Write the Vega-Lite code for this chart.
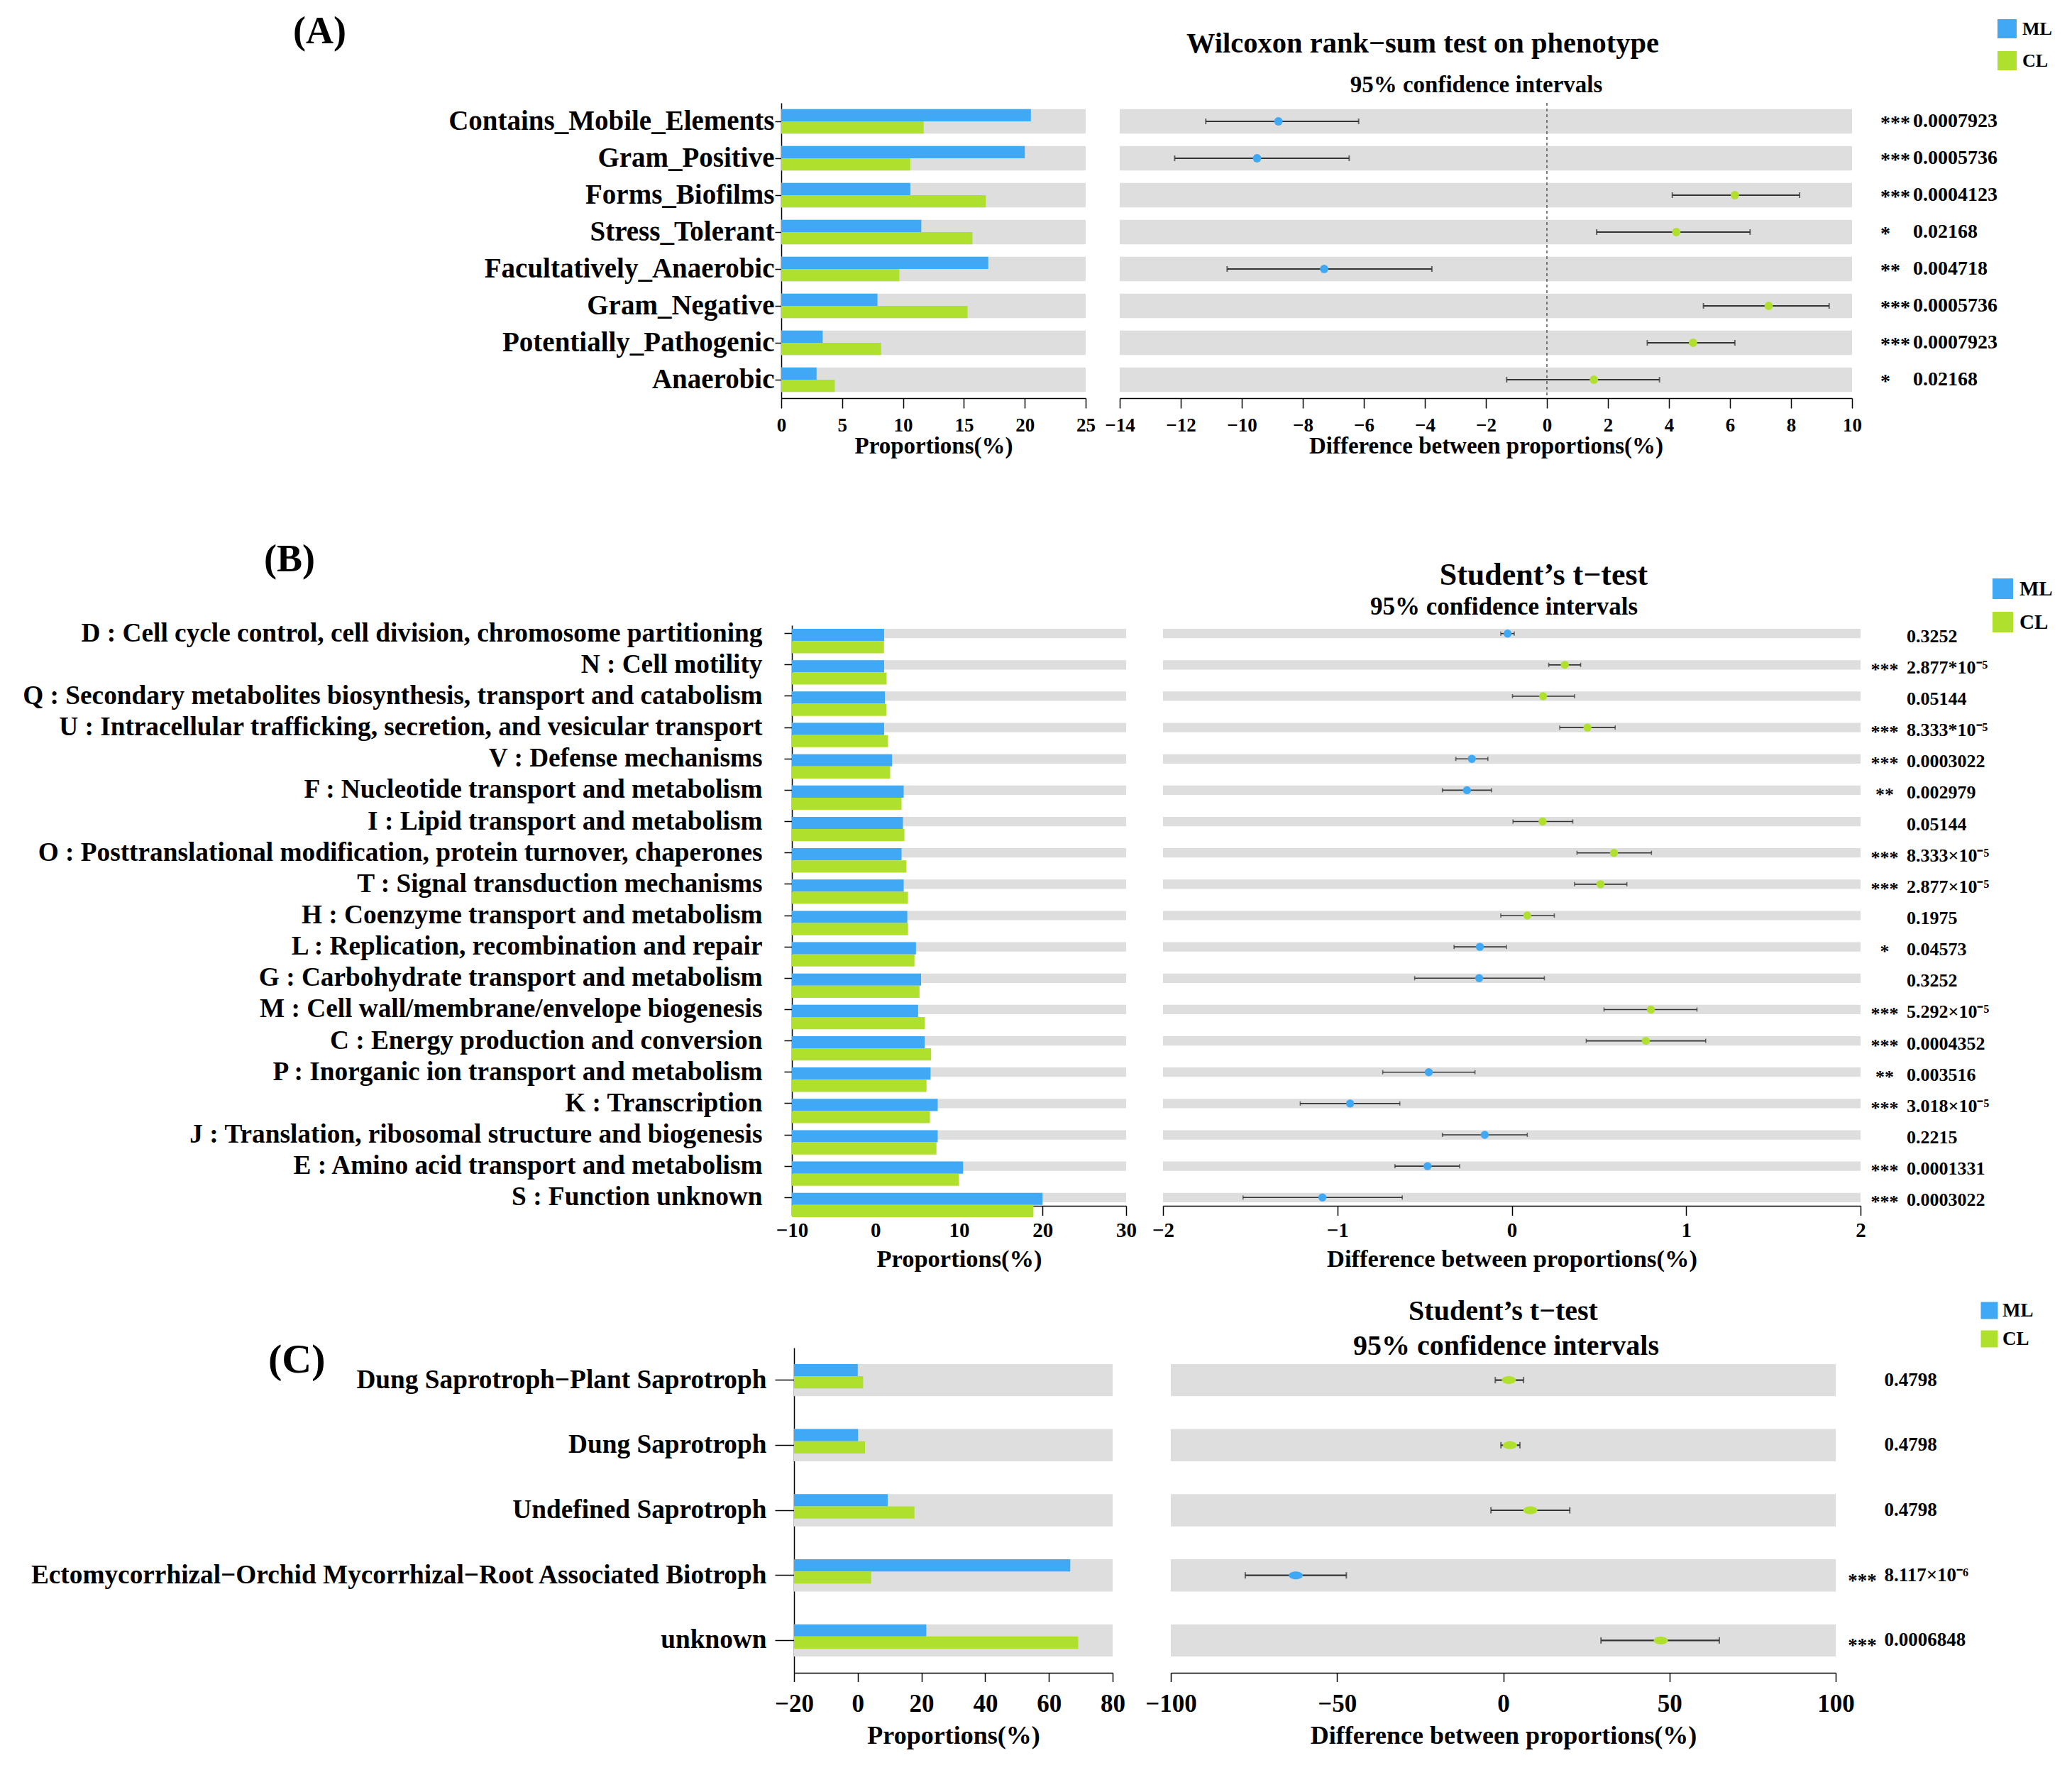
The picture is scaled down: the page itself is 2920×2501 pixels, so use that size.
{
"$schema": "https://vega.github.io/schema/vega-lite/v6.json",
"padding": {"left": 0, "top": 18, "right": 5, "bottom": 5},
"background": "white",
"config": {
  "font": "Liberation Serif",
  "view": {"stroke": null},
  "axis": {"grid": false, "domainColor": "#000", "tickColor": "#000", "labelColor": "#000", "titleColor": "#000", "labelFont": "Liberation Serif", "titleFont": "Liberation Serif", "labelFontWeight": "bold", "titleFontWeight": "bold", "labelFlush": false, "labelOverlap": false},
  "title": {"font": "Liberation Serif", "fontWeight": "bold", "color": "#000"},
  "text": {"font": "Liberation Serif", "fontWeight": "bold", "color": "#000"}
},
"datasets": {
  "A_bar": [
    {"cat":"Contains_Mobile_Elements","group":"ML","value":20.5},
    {"cat":"Contains_Mobile_Elements","group":"CL","value":11.7},
    {"cat":"Gram_Positive","group":"ML","value":20.0},
    {"cat":"Gram_Positive","group":"CL","value":10.6},
    {"cat":"Forms_Biofilms","group":"ML","value":10.6},
    {"cat":"Forms_Biofilms","group":"CL","value":16.8},
    {"cat":"Stress_Tolerant","group":"ML","value":11.5},
    {"cat":"Stress_Tolerant","group":"CL","value":15.7},
    {"cat":"Facultatively_Anaerobic","group":"ML","value":17.0},
    {"cat":"Facultatively_Anaerobic","group":"CL","value":9.7},
    {"cat":"Gram_Negative","group":"ML","value":7.9},
    {"cat":"Gram_Negative","group":"CL","value":15.3},
    {"cat":"Potentially_Pathogenic","group":"ML","value":3.4},
    {"cat":"Potentially_Pathogenic","group":"CL","value":8.2},
    {"cat":"Anaerobic","group":"ML","value":2.9},
    {"cat":"Anaerobic","group":"CL","value":4.4}
  ],
  "A_diff": [
    {"cat":"Contains_Mobile_Elements","diff":-8.8,"lo":-11.18,"hi":-6.17,"group":"ML","sig":"***","p":"0.0007923"},
    {"cat":"Gram_Positive","diff":-9.5,"lo":-12.2,"hi":-6.48,"group":"ML","sig":"***","p":"0.0005736"},
    {"cat":"Forms_Biofilms","diff":6.16,"lo":4.11,"hi":8.28,"group":"CL","sig":"***","p":"0.0004123"},
    {"cat":"Stress_Tolerant","diff":4.24,"lo":1.63,"hi":6.66,"group":"CL","sig":"*","p":"0.02168"},
    {"cat":"Facultatively_Anaerobic","diff":-7.3,"lo":-10.48,"hi":-3.77,"group":"ML","sig":"**","p":"0.004718"},
    {"cat":"Gram_Negative","diff":7.27,"lo":5.13,"hi":9.25,"group":"CL","sig":"***","p":"0.0005736"},
    {"cat":"Potentially_Pathogenic","diff":4.79,"lo":3.29,"hi":6.16,"group":"CL","sig":"***","p":"0.0007923"},
    {"cat":"Anaerobic","diff":1.54,"lo":-1.32,"hi":3.69,"group":"CL","sig":"*","p":"0.02168"}
  ],
  "B_bar": [
    {"cat":"D : Cell cycle control, cell division, chromosome partitioning","group":"ML","value":1.04},
    {"cat":"D : Cell cycle control, cell division, chromosome partitioning","group":"CL","value":1.02},
    {"cat":"N : Cell motility","group":"ML","value":1.04},
    {"cat":"N : Cell motility","group":"CL","value":1.34},
    {"cat":"Q : Secondary metabolites biosynthesis, transport and catabolism","group":"ML","value":1.13},
    {"cat":"Q : Secondary metabolites biosynthesis, transport and catabolism","group":"CL","value":1.31},
    {"cat":"U : Intracellular trafficking, secretion, and vesicular transport","group":"ML","value":1.04},
    {"cat":"U : Intracellular trafficking, secretion, and vesicular transport","group":"CL","value":1.47},
    {"cat":"V : Defense mechanisms","group":"ML","value":1.99},
    {"cat":"V : Defense mechanisms","group":"CL","value":1.76},
    {"cat":"F : Nucleotide transport and metabolism","group":"ML","value":3.38},
    {"cat":"F : Nucleotide transport and metabolism","group":"CL","value":3.12},
    {"cat":"I : Lipid transport and metabolism","group":"ML","value":3.29},
    {"cat":"I : Lipid transport and metabolism","group":"CL","value":3.47},
    {"cat":"O : Posttranslational modification, protein turnover, chaperones","group":"ML","value":3.12},
    {"cat":"O : Posttranslational modification, protein turnover, chaperones","group":"CL","value":3.71},
    {"cat":"T : Signal transduction mechanisms","group":"ML","value":3.38},
    {"cat":"T : Signal transduction mechanisms","group":"CL","value":3.89},
    {"cat":"H : Coenzyme transport and metabolism","group":"ML","value":3.81},
    {"cat":"H : Coenzyme transport and metabolism","group":"CL","value":3.90},
    {"cat":"L : Replication, recombination and repair","group":"ML","value":4.85},
    {"cat":"L : Replication, recombination and repair","group":"CL","value":4.67},
    {"cat":"G : Carbohydrate transport and metabolism","group":"ML","value":5.46},
    {"cat":"G : Carbohydrate transport and metabolism","group":"CL","value":5.27},
    {"cat":"M : Cell wall/membrane/envelope biogenesis","group":"ML","value":5.11},
    {"cat":"M : Cell wall/membrane/envelope biogenesis","group":"CL","value":5.91},
    {"cat":"C : Energy production and conversion","group":"ML","value":5.89},
    {"cat":"C : Energy production and conversion","group":"CL","value":6.66},
    {"cat":"P : Inorganic ion transport and metabolism","group":"ML","value":6.59},
    {"cat":"P : Inorganic ion transport and metabolism","group":"CL","value":6.11},
    {"cat":"K : Transcription","group":"ML","value":7.45},
    {"cat":"K : Transcription","group":"CL","value":6.52},
    {"cat":"J : Translation, ribosomal structure and biogenesis","group":"ML","value":7.45},
    {"cat":"J : Translation, ribosomal structure and biogenesis","group":"CL","value":7.30},
    {"cat":"E : Amino acid transport and metabolism","group":"ML","value":10.49},
    {"cat":"E : Amino acid transport and metabolism","group":"CL","value":10.0},
    {"cat":"S : Function unknown","group":"ML","value":20.0},
    {"cat":"S : Function unknown","group":"CL","value":18.91}
  ],
  "B_diff": [
    {"cat":"D : Cell cycle control, cell division, chromosome partitioning","diff":-0.024,"lo":-0.063,"hi":0.014,"group":"ML","sig":"","p":"0.3252"},
    {"cat":"N : Cell motility","diff":0.304,"lo":0.212,"hi":0.395,"group":"CL","sig":"***","p":"2.877*10⁻⁵"},
    {"cat":"Q : Secondary metabolites biosynthesis, transport and catabolism","diff":0.18,"lo":0.004,"hi":0.36,"group":"CL","sig":"","p":"0.05144"},
    {"cat":"U : Intracellular trafficking, secretion, and vesicular transport","diff":0.434,"lo":0.275,"hi":0.593,"group":"CL","sig":"***","p":"8.333*10⁻⁵"},
    {"cat":"V : Defense mechanisms","diff":-0.229,"lo":-0.321,"hi":-0.137,"group":"ML","sig":"***","p":"0.0003022"},
    {"cat":"F : Nucleotide transport and metabolism","diff":-0.257,"lo":-0.398,"hi":-0.116,"group":"ML","sig":"**","p":"0.002979"},
    {"cat":"I : Lipid transport and metabolism","diff":0.177,"lo":0.007,"hi":0.35,"group":"CL","sig":"","p":"0.05144"},
    {"cat":"O : Posttranslational modification, protein turnover, chaperones","diff":0.586,"lo":0.374,"hi":0.801,"group":"CL","sig":"***","p":"8.333×10⁻⁵"},
    {"cat":"T : Signal transduction mechanisms","diff":0.509,"lo":0.36,"hi":0.66,"group":"CL","sig":"***","p":"2.877×10⁻⁵"},
    {"cat":"H : Coenzyme transport and metabolism","diff":0.089,"lo":-0.063,"hi":0.244,"group":"CL","sig":"","p":"0.1975"},
    {"cat":"L : Replication, recombination and repair","diff":-0.183,"lo":-0.331,"hi":-0.031,"group":"ML","sig":"*","p":"0.04573"},
    {"cat":"G : Carbohydrate transport and metabolism","diff":-0.187,"lo":-0.557,"hi":0.187,"group":"ML","sig":"","p":"0.3252"},
    {"cat":"M : Cell wall/membrane/envelope biogenesis","diff":0.798,"lo":0.529,"hi":1.062,"group":"CL","sig":"***","p":"5.292×10⁻⁵"},
    {"cat":"C : Energy production and conversion","diff":0.769,"lo":0.427,"hi":1.112,"group":"CL","sig":"***","p":"0.0004352"},
    {"cat":"P : Inorganic ion transport and metabolism","diff":-0.476,"lo":-0.74,"hi":-0.211,"group":"ML","sig":"**","p":"0.003516"},
    {"cat":"K : Transcription","diff":-0.927,"lo":-1.213,"hi":-0.642,"group":"ML","sig":"***","p":"3.018×10⁻⁵"},
    {"cat":"J : Translation, ribosomal structure and biogenesis","diff":-0.155,"lo":-0.398,"hi":0.089,"group":"ML","sig":"","p":"0.2215"},
    {"cat":"E : Amino acid transport and metabolism","diff":-0.483,"lo":-0.67,"hi":-0.299,"group":"ML","sig":"***","p":"0.0001331"},
    {"cat":"S : Function unknown","diff":-1.086,"lo":-1.541,"hi":-0.628,"group":"ML","sig":"***","p":"0.0003022"}
  ],
  "C_bar": [
    {"cat":"Dung Saprotroph−Plant Saprotroph","group":"ML","value":0.0},
    {"cat":"Dung Saprotroph−Plant Saprotroph","group":"CL","value":1.7},
    {"cat":"Dung Saprotroph","group":"ML","value":0.1},
    {"cat":"Dung Saprotroph","group":"CL","value":2.3},
    {"cat":"Undefined Saprotroph","group":"ML","value":9.4},
    {"cat":"Undefined Saprotroph","group":"CL","value":17.8},
    {"cat":"Ectomycorrhizal−Orchid Mycorrhizal−Root Associated Biotroph","group":"ML","value":66.7},
    {"cat":"Ectomycorrhizal−Orchid Mycorrhizal−Root Associated Biotroph","group":"CL","value":4.2},
    {"cat":"unknown","group":"ML","value":21.5},
    {"cat":"unknown","group":"CL","value":69.2}
  ],
  "C_diff": [
    {"cat":"Dung Saprotroph−Plant Saprotroph","diff":1.67,"lo":-2.4,"hi":6.1,"group":"CL","sig":"","p":"0.4798"},
    {"cat":"Dung Saprotroph","diff":2.0,"lo":-0.7,"hi":5.0,"group":"CL","sig":"","p":"0.4798"},
    {"cat":"Undefined Saprotroph","diff":8.15,"lo":-3.7,"hi":20.0,"group":"CL","sig":"","p":"0.4798"},
    {"cat":"Ectomycorrhizal−Orchid Mycorrhizal−Root Associated Biotroph","diff":-62.4,"lo":-77.6,"hi":-47.2,"group":"ML","sig":"***","p":"8.117×10⁻⁶"},
    {"cat":"unknown","diff":47.4,"lo":29.4,"hi":65.0,"group":"CL","sig":"***","p":"0.0006848"}
  ],
  "zero_line": [{"line":"zero"}],
  "blank": [{"note":""}]
},
"resolve": {"scale": {"color": "independent"}, "legend": {"color": "independent"}},
"spacing": 36,
"vconcat": [
 {
  "spacing": 117,
  "resolve": {"scale": {"color": "independent"}, "legend": {"color": "independent"}},
  "vconcat": [
   {
    "bounds": "flush",
    "spacing": 48,
    "resolve": {"scale": {"color": "independent"}, "legend": {"color": "independent"}},
    "hconcat": [
     {"width": 34, "height": 416, "data": {"name": "blank"}, "mark": {"type": "text", "text": ""}},
     {
      "width": 429, "height": 416,
      "title": {"text": "(A)", "fontSize": 54, "anchor": "start", "frame": "group", "dx": -688, "offset": 73},
      "encoding": {"y": {"field": "cat", "type": "nominal", "scale": {"domain": ["Contains_Mobile_Elements","Gram_Positive","Forms_Biofilms","Stress_Tolerant","Facultatively_Anaerobic","Gram_Negative","Potentially_Pathogenic","Anaerobic"], "paddingInner": 0.34, "paddingOuter": 0.17},
        "axis": {"title": " ", "titleFontSize": 1, "titlePadding": 0, "minExtent": 1100, "maxExtent": 1100, "labelFontSize": 39, "labelLimit": 2000, "tickSize": 9, "tickWidth": 1.5, "labelPadding": 1, "domainWidth": 1.5}}},
      "layer": [
       {"data": {"name": "A_diff"}, "mark": {"type": "bar", "color": "#DEDEDE"},
        "encoding": {"x": {"datum": 0, "type": "quantitative", "scale": {"domain": [0, 25], "nice": false}, "axis": {"values": [0,5,10,15,20,25], "title": "Proportions(%)", "titleFontSize": 33, "labelFontSize": 27, "tickSize": 14, "tickWidth": 1.5, "domainWidth": 1.5, "labelPadding": 11, "titlePadding": 0}}, "x2": {"datum": 25}}},
       {"data": {"name": "A_bar"}, "mark": {"type": "bar"},
        "encoding": {"x": {"field": "value", "type": "quantitative", "scale": {"domain": [0, 25], "nice": false}, "axis": {"values": [0,5,10,15,20,25], "title": "Proportions(%)", "titleFontSize": 33, "labelFontSize": 27, "tickSize": 14, "tickWidth": 1.5, "domainWidth": 1.5, "labelPadding": 11, "titlePadding": 0}}, "x2": {"datum": 0},
          "yOffset": {"field": "group", "type": "nominal", "scale": {"domain": ["ML","CL"], "paddingInner": 0, "paddingOuter": 0}},
          "color": {"field": "group", "type": "nominal", "scale": {"domain": ["ML","CL"], "range": ["#40A9F6","#B0E02E"]}, "legend": null}}}
      ]
     },
     {
      "width": 1032, "height": 416,
      "title": {"text": "Wilcoxon rank−sum test on phenotype", "fontSize": 40.5, "anchor": "middle", "frame": "group", "dx": -89, "offset": 21},
      "data": {"name": "A_diff"},
      "resolve": {"axis": {"x": "independent"}},
      "layer": [
       {"mark": {"type": "bar", "color": "#DEDEDE"},
        "encoding": {"y": {"field": "cat", "type": "nominal", "scale": {"domain": ["Contains_Mobile_Elements","Gram_Positive","Forms_Biofilms","Stress_Tolerant","Facultatively_Anaerobic","Gram_Negative","Potentially_Pathogenic","Anaerobic"], "paddingInner": 0.34, "paddingOuter": 0.17}, "axis": null},
          "x": {"datum": -14, "type": "quantitative", "scale": {"domain": [-14, 10], "nice": false}, "axis": {"values": [-14,-12,-10,-8,-6,-4,-2,0,2,4,6,8,10], "title": "Difference between proportions(%)", "titleFontSize": 33, "labelFontSize": 27, "tickSize": 14, "tickWidth": 1.5, "domainWidth": 1.5, "labelPadding": 11, "titlePadding": 0}}, "x2": {"datum": 10}}},
       {"data": {"name": "zero_line"}, "mark": {"type": "rule", "color": "#555555", "strokeDash": [4, 4], "strokeWidth": 1.5},
        "encoding": {"x": {"datum": 0, "type": "quantitative", "scale": {"domain": [-14, 10], "nice": false}, "axis": null}}},
       {"mark": {"type": "rule", "color": "#333333", "strokeWidth": 2},
        "encoding": {"y": {"field": "cat", "type": "nominal", "axis": null},
          "x": {"field": "lo", "type": "quantitative", "scale": {"domain": [-14, 10], "nice": false}, "axis": {"orient": "top", "labels": false, "ticks": false, "domain": false, "title": "95% confidence intervals", "titleFontSize": 33, "titleX": 502, "titleY": -26, "titleBaseline": "middle", "titleAlign": "center", "minExtent": 0, "maxExtent": 0}}, "x2": {"field": "hi"}}},
       {"mark": {"type": "tick", "color": "#333333", "thickness": 2, "size": 8},
        "encoding": {"y": {"field": "cat", "type": "nominal", "axis": null}, "x": {"field": "lo", "type": "quantitative", "axis": null}}},
       {"mark": {"type": "tick", "color": "#333333", "thickness": 2, "size": 8},
        "encoding": {"y": {"field": "cat", "type": "nominal", "axis": null}, "x": {"field": "hi", "type": "quantitative", "axis": null}}},
       {"mark": {"type": "point", "filled": true, "opacity": 1, "size": 140, "strokeWidth": 0},
        "encoding": {"y": {"field": "cat", "type": "nominal", "axis": null}, "x": {"field": "diff", "type": "quantitative", "axis": null},
          "color": {"field": "group", "type": "nominal", "scale": {"domain": ["ML","CL"], "range": ["#40A9F6","#B0E02E"]}, "legend": null}}},
       {"mark": {"type": "text", "align": "left", "baseline": "middle", "fontSize": 28, "dy": 3},
        "encoding": {"y": {"field": "cat", "type": "nominal", "axis": null}, "x": {"datum": 10.93, "type": "quantitative", "axis": null}, "text": {"field": "sig"}}},
       {"mark": {"type": "text", "align": "left", "baseline": "middle", "fontSize": 28},
        "encoding": {"y": {"field": "cat", "type": "nominal", "axis": null}, "x": {"datum": 12.0, "type": "quantitative", "axis": null}, "text": {"field": "p"}}}
      ]
     },
     {
      "width": 10, "height": 416,
      "data": {"name": "A_bar"},
      "mark": {"type": "square", "opacity": 0},
      "encoding": {"color": {"field": "group", "type": "nominal", "scale": {"domain": ["ML","CL"], "range": ["#40A9F6","#B0E02E"]},
        "legend": {"orient": "none", "legendX": 157, "legendY": -118, "direction": "vertical", "title": null, "symbolType": "square", "symbolSize": 729, "symbolStrokeWidth": 0, "symbolOpacity": 1, "labelFontSize": 26, "labelFont": "Liberation Serif", "labelFontWeight": "bold", "labelColor": "#000", "rowPadding": 18, "labelOffset": 8, "padding": 0, "offset": 0}}}
     }
    ]
   },
   {
    "bounds": "flush",
    "spacing": 52,
    "resolve": {"scale": {"color": "independent"}, "legend": {"color": "independent"}},
    "hconcat": [
     {"width": 45, "height": 818, "data": {"name": "blank"}, "mark": {"type": "text", "text": ""}},
     {
      "width": 471, "height": 818,
      "title": {"text": "(B)", "fontSize": 54, "anchor": "start", "frame": "group", "dx": -744, "offset": 57},
      "encoding": {"y": {"field": "cat", "type": "nominal", "scale": {"domain": ["D : Cell cycle control, cell division, chromosome partitioning","N : Cell motility","Q : Secondary metabolites biosynthesis, transport and catabolism","U : Intracellular trafficking, secretion, and vesicular transport","V : Defense mechanisms","F : Nucleotide transport and metabolism","I : Lipid transport and metabolism","O : Posttranslational modification, protein turnover, chaperones","T : Signal transduction mechanisms","H : Coenzyme transport and metabolism","L : Replication, recombination and repair","G : Carbohydrate transport and metabolism","M : Cell wall/membrane/envelope biogenesis","C : Energy production and conversion","P : Inorganic ion transport and metabolism","K : Transcription","J : Translation, ribosomal structure and biogenesis","E : Amino acid transport and metabolism","S : Function unknown"], "paddingInner": 0.7, "paddingOuter": 0.115},
        "axis": {"title": " ", "titleFontSize": 1, "titlePadding": 0, "minExtent": 1115, "maxExtent": 1115, "labelFontSize": 37.3, "labelLimit": 2000, "tickSize": 11, "tickWidth": 1.5, "labelPadding": 31, "domainWidth": 1.5}}},
      "layer": [
       {"data": {"name": "B_diff"}, "mark": {"type": "bar", "color": "#DEDEDE"},
        "encoding": {"x": {"datum": -10, "type": "quantitative", "scale": {"domain": [-10, 30], "nice": false}, "axis": {"values": [-10,0,10,20,30], "title": "Proportions(%)", "titleFontSize": 34.5, "labelFontSize": 29, "tickSize": 13.5, "tickWidth": 1.5, "domainWidth": 1.5, "labelPadding": 7, "titlePadding": 9}}, "x2": {"datum": 30}}},
       {"data": {"name": "B_bar"}, "mark": {"type": "bar"},
        "encoding": {"x": {"field": "value", "type": "quantitative", "scale": {"domain": [-10, 30], "nice": false}, "axis": {"values": [-10,0,10,20,30], "title": "Proportions(%)", "titleFontSize": 34.5, "labelFontSize": 29, "tickSize": 13.5, "tickWidth": 1.5, "domainWidth": 1.5, "labelPadding": 7, "titlePadding": 9}}, "x2": {"datum": -10},
          "yOffset": {"field": "group", "type": "nominal", "scale": {"domain": ["ML","CL"], "paddingInner": 0, "paddingOuter": 0}},
          "color": {"field": "group", "type": "nominal", "scale": {"domain": ["ML","CL"], "range": ["#40A9F6","#B0E02E"]}, "legend": null}}}
      ]
     },
     {
      "width": 983, "height": 818,
      "title": {"text": "Student’s t−test", "fontSize": 44, "anchor": "middle", "frame": "group", "dx": 45, "offset": 4},
      "data": {"name": "B_diff"},
      "resolve": {"axis": {"x": "independent"}},
      "layer": [
       {"mark": {"type": "bar", "color": "#DEDEDE"},
        "encoding": {"y": {"field": "cat", "type": "nominal", "scale": {"domain": ["D : Cell cycle control, cell division, chromosome partitioning","N : Cell motility","Q : Secondary metabolites biosynthesis, transport and catabolism","U : Intracellular trafficking, secretion, and vesicular transport","V : Defense mechanisms","F : Nucleotide transport and metabolism","I : Lipid transport and metabolism","O : Posttranslational modification, protein turnover, chaperones","T : Signal transduction mechanisms","H : Coenzyme transport and metabolism","L : Replication, recombination and repair","G : Carbohydrate transport and metabolism","M : Cell wall/membrane/envelope biogenesis","C : Energy production and conversion","P : Inorganic ion transport and metabolism","K : Transcription","J : Translation, ribosomal structure and biogenesis","E : Amino acid transport and metabolism","S : Function unknown"], "paddingInner": 0.7, "paddingOuter": 0.115}, "axis": null},
          "x": {"datum": -2, "type": "quantitative", "scale": {"domain": [-2, 2], "nice": false}, "axis": {"values": [-2,-1,0,1,2], "title": "Difference between proportions(%)", "titleFontSize": 34.5, "labelFontSize": 29, "tickSize": 13.5, "tickWidth": 1.5, "domainWidth": 1.5, "labelPadding": 7, "titlePadding": 9}}, "x2": {"datum": 2}}},
       {"mark": {"type": "rule", "color": "#333333", "strokeWidth": 1.6},
        "encoding": {"y": {"field": "cat", "type": "nominal", "axis": null},
          "x": {"field": "lo", "type": "quantitative", "scale": {"domain": [-2, 2], "nice": false}, "axis": {"orient": "top", "labels": false, "ticks": false, "domain": false, "title": "95% confidence intervals", "titleFontSize": 35, "titleX": 480, "titleY": -27, "titleBaseline": "middle", "titleAlign": "center", "minExtent": 0, "maxExtent": 0}}, "x2": {"field": "hi"}}},
       {"mark": {"type": "tick", "color": "#333333", "thickness": 1.6, "size": 6},
        "encoding": {"y": {"field": "cat", "type": "nominal", "axis": null}, "x": {"field": "lo", "type": "quantitative", "axis": null}}},
       {"mark": {"type": "tick", "color": "#333333", "thickness": 1.6, "size": 6},
        "encoding": {"y": {"field": "cat", "type": "nominal", "axis": null}, "x": {"field": "hi", "type": "quantitative", "axis": null}}},
       {"mark": {"type": "point", "filled": true, "opacity": 1, "size": 130, "strokeWidth": 0},
        "encoding": {"y": {"field": "cat", "type": "nominal", "axis": null}, "x": {"field": "diff", "type": "quantitative", "axis": null},
          "color": {"field": "group", "type": "nominal", "scale": {"domain": ["ML","CL"], "range": ["#40A9F6","#B0E02E"]}, "legend": null}}},
       {"mark": {"type": "text", "align": "center", "baseline": "middle", "fontSize": 26, "dy": 7},
        "encoding": {"y": {"field": "cat", "type": "nominal", "axis": null}, "x": {"datum": 2.138, "type": "quantitative", "axis": null}, "text": {"field": "sig"}}},
       {"mark": {"type": "text", "align": "left", "baseline": "middle", "fontSize": 26, "dy": 4},
        "encoding": {"y": {"field": "cat", "type": "nominal", "axis": null}, "x": {"datum": 2.265, "type": "quantitative", "axis": null}, "text": {"field": "p"}}}
      ]
     },
     {
      "width": 10, "height": 818,
      "data": {"name": "B_bar"},
      "mark": {"type": "square", "opacity": 0},
      "encoding": {"color": {"field": "group", "type": "nominal", "scale": {"domain": ["ML","CL"], "range": ["#40A9F6","#B0E02E"]},
        "legend": {"orient": "none", "legendX": 134, "legendY": -66, "direction": "vertical", "title": null, "symbolType": "square", "symbolSize": 841, "symbolStrokeWidth": 0, "symbolOpacity": 1, "labelFontSize": 29, "labelFont": "Liberation Serif", "labelFontWeight": "bold", "labelColor": "#000", "rowPadding": 17, "labelOffset": 9, "padding": 0, "offset": 0}}}
     }
    ]
   }
  ]
 },
 {
  "bounds": "flush",
  "spacing": 82,
  "resolve": {"scale": {"color": "independent"}, "legend": {"color": "independent"}},
  "hconcat": [
   {"width": 18, "height": 458, "data": {"name": "blank"}, "mark": {"type": "text", "text": ""}},
   {
    "width": 449, "height": 458,
    "title": {"text": "(C)", "fontSize": 58, "anchor": "start", "frame": "group", "dx": -741, "offset": -47},
    "encoding": {"y": {"field": "cat", "type": "nominal", "scale": {"domain": ["Dung Saprotroph−Plant Saprotroph","Dung Saprotroph","Undefined Saprotroph","Ectomycorrhizal−Orchid Mycorrhizal−Root Associated Biotroph","unknown"], "paddingInner": 0.505, "paddingOuter": 0.25},
      "axis": {"title": " ", "titleFontSize": 1, "titlePadding": 0, "minExtent": 1118, "maxExtent": 1118, "labelFontSize": 37.3, "labelLimit": 2000, "tickSize": 27, "tickWidth": 1.5, "labelPadding": 12, "domainWidth": 1.5}}},
    "layer": [
     {"data": {"name": "C_diff"}, "mark": {"type": "bar", "color": "#DEDEDE"},
      "encoding": {"x": {"datum": -20, "type": "quantitative", "scale": {"domain": [-20, 80], "nice": false}, "axis": {"values": [-20,0,20,40,60,80], "title": "Proportions(%)", "titleFontSize": 36, "labelFontSize": 35, "tickSize": 12.5, "tickWidth": 1.5, "domainWidth": 1.5, "labelPadding": 14.4, "titlePadding": 10}}, "x2": {"datum": 80}}},
     {"data": {"name": "C_bar"}, "mark": {"type": "bar"},
      "encoding": {"x": {"field": "value", "type": "quantitative", "scale": {"domain": [-20, 80], "nice": false}, "axis": {"values": [-20,0,20,40,60,80], "title": "Proportions(%)", "titleFontSize": 36, "labelFontSize": 35, "tickSize": 12.5, "tickWidth": 1.5, "domainWidth": 1.5, "labelPadding": 14.4, "titlePadding": 10}}, "x2": {"datum": -20},
        "yOffset": {"field": "group", "type": "nominal", "scale": {"domain": ["ML","CL"], "paddingInner": 0, "paddingOuter": 0}},
        "color": {"field": "group", "type": "nominal", "scale": {"domain": ["ML","CL"], "range": ["#40A9F6","#B0E02E"]}, "legend": null}}}
    ]
   },
   {
    "width": 937, "height": 458,
    "title": {"text": "Student’s t−test", "fontSize": 40, "anchor": "middle", "frame": "group", "dx": 0, "offset": 9},
    "data": {"name": "C_diff"},
    "resolve": {"axis": {"x": "independent"}},
    "layer": [
     {"mark": {"type": "bar", "color": "#DEDEDE"},
      "encoding": {"y": {"field": "cat", "type": "nominal", "scale": {"domain": ["Dung Saprotroph−Plant Saprotroph","Dung Saprotroph","Undefined Saprotroph","Ectomycorrhizal−Orchid Mycorrhizal−Root Associated Biotroph","unknown"], "paddingInner": 0.505, "paddingOuter": 0.25}, "axis": null},
        "x": {"datum": -100, "type": "quantitative", "scale": {"domain": [-100, 100], "nice": false}, "axis": {"values": [-100,-50,0,50,100], "title": "Difference between proportions(%)", "titleFontSize": 36, "labelFontSize": 35, "tickSize": 12.5, "tickWidth": 1.5, "domainWidth": 1.5, "labelPadding": 14.4, "titlePadding": 10}}, "x2": {"datum": 100}}},
     {"mark": {"type": "rule", "color": "#333333", "strokeWidth": 2.2},
      "encoding": {"y": {"field": "cat", "type": "nominal", "axis": null},
        "x": {"field": "lo", "type": "quantitative", "scale": {"domain": [-100, 100], "nice": false}, "axis": {"orient": "top", "labels": false, "ticks": false, "domain": false, "title": "95% confidence intervals", "titleFontSize": 40, "titleX": 472, "titleY": -2.5, "titleBaseline": "middle", "titleAlign": "center", "minExtent": 0, "maxExtent": 0}}, "x2": {"field": "hi"}}},
     {"mark": {"type": "tick", "color": "#333333", "thickness": 2, "size": 9},
      "encoding": {"y": {"field": "cat", "type": "nominal", "axis": null}, "x": {"field": "lo", "type": "quantitative", "axis": null}}},
     {"mark": {"type": "tick", "color": "#333333", "thickness": 2, "size": 9},
      "encoding": {"y": {"field": "cat", "type": "nominal", "axis": null}, "x": {"field": "hi", "type": "quantitative", "axis": null}}},
     {"mark": {"type": "point", "filled": true, "opacity": 1, "size": 400, "strokeWidth": 0, "shape": "M-1,0A1,0.55,0,1,0,1,0A1,0.55,0,1,0,-1,0Z"},
      "encoding": {"y": {"field": "cat", "type": "nominal", "axis": null}, "x": {"field": "diff", "type": "quantitative", "axis": null},
        "color": {"field": "group", "type": "nominal", "scale": {"domain": ["ML","CL"], "range": ["#40A9F6","#B0E02E"]}, "legend": null}}},
     {"mark": {"type": "text", "align": "center", "baseline": "middle", "fontSize": 27, "dy": 8},
      "encoding": {"y": {"field": "cat", "type": "nominal", "axis": null}, "x": {"datum": 108.0, "type": "quantitative", "axis": null}, "text": {"field": "sig"}}},
     {"mark": {"type": "text", "align": "left", "baseline": "middle", "fontSize": 27},
      "encoding": {"y": {"field": "cat", "type": "nominal", "axis": null}, "x": {"datum": 114.6, "type": "quantitative", "axis": null}, "text": {"field": "p"}}}
    ]
   },
   {
    "width": 10, "height": 458,
    "data": {"name": "C_bar"},
    "mark": {"type": "square", "opacity": 0},
    "encoding": {"color": {"field": "group", "type": "nominal", "scale": {"domain": ["ML","CL"], "range": ["#40A9F6","#B0E02E"]},
      "legend": {"orient": "none", "legendX": 121, "legendY": -66, "direction": "vertical", "title": null, "symbolType": "square", "symbolSize": 576, "symbolStrokeWidth": 0, "symbolOpacity": 1, "labelFontSize": 27, "labelFont": "Liberation Serif", "labelFontWeight": "bold", "labelColor": "#000", "rowPadding": 12, "labelOffset": 5, "padding": 0, "offset": 0}}}
   }
  ]
 }
]
}
